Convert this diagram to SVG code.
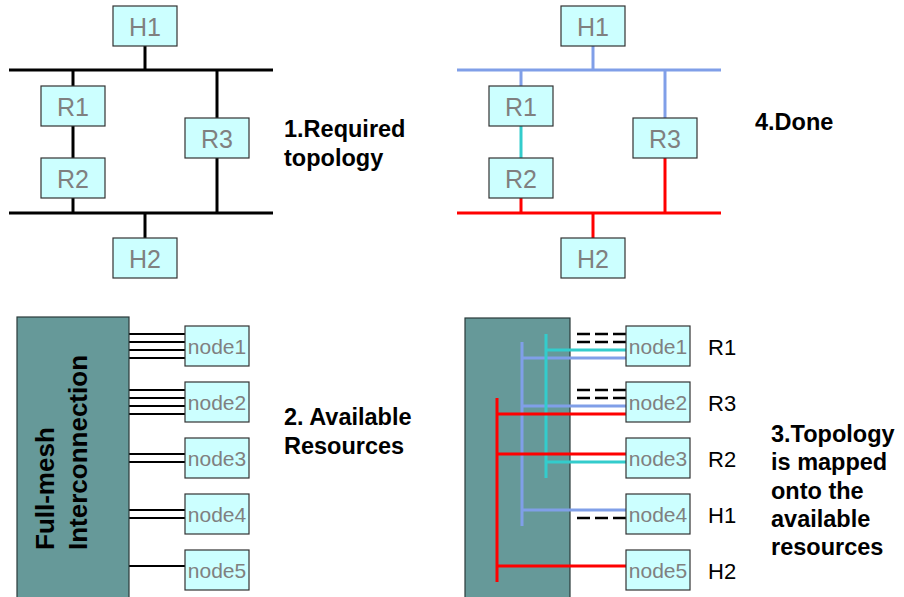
<svg xmlns="http://www.w3.org/2000/svg" width="904" height="597" viewBox="0 0 904 597">
  <style>
    .box { fill: #ccffff; stroke: #333333; stroke-width: 1.2; }
    .blabel { font-family: "Liberation Sans", Arial, sans-serif; font-size: 25px; fill: #808080; text-anchor: middle; dominant-baseline: central; }
    .nlabel { font-family: "Liberation Sans", Arial, sans-serif; font-size: 21px; fill: #808080; text-anchor: middle; dominant-baseline: central; }
    .caption { font-family: "Liberation Sans", Arial, sans-serif; font-size: 23.5px; font-weight: bold; fill: #000000; }
    .map { font-family: "Liberation Sans", Arial, sans-serif; font-size: 22px; fill: #000000; dominant-baseline: central; }
    .fabric { fill: #669999; stroke: #2a3a3a; stroke-width: 1.2; }
    .blk { stroke: #000000; stroke-width: 3; fill: none; }
    .thin { stroke: #000000; stroke-width: 2; fill: none; }
    .dash { stroke: #000000; stroke-width: 2.5; fill: none; stroke-dasharray: 13 5; }
    .blue { stroke: #809fe8; stroke-width: 3; fill: none; }
    .cyan { stroke: #33cccc; stroke-width: 3; fill: none; }
    .red { stroke: #ff0000; stroke-width: 3; fill: none; }
  </style>
  <rect width="904" height="597" fill="#ffffff"/>

  <!-- Connectors -->
  <g id="connectors">
    <!-- required topology (black) -->
    <line class="blk" x1="9" y1="70" x2="273" y2="70"/>
    <line class="blk" x1="9" y1="213" x2="273" y2="213"/>
    <line class="blk" x1="145" y1="46" x2="145" y2="70"/>
    <line class="blk" x1="73" y1="70" x2="73" y2="86"/>
    <line class="blk" x1="73" y1="126" x2="73" y2="158"/>
    <line class="blk" x1="73" y1="198" x2="73" y2="213"/>
    <line class="blk" x1="217" y1="70" x2="217" y2="118"/>
    <line class="blk" x1="217" y1="158" x2="217" y2="213"/>
    <line class="blk" x1="145" y1="213" x2="145" y2="238"/>

    <!-- done topology (coloured) -->
    <line class="blue" x1="457" y1="70" x2="721" y2="70"/>
    <line class="blue" x1="593" y1="46" x2="593" y2="70"/>
    <line class="blue" x1="521" y1="70" x2="521" y2="86"/>
    <line class="blue" x1="665" y1="70" x2="665" y2="118"/>
    <line class="cyan" x1="521" y1="126" x2="521" y2="158"/>
    <line class="red" x1="457" y1="213" x2="721" y2="213"/>
    <line class="red" x1="521" y1="198" x2="521" y2="213"/>
    <line class="red" x1="665" y1="158" x2="665" y2="213"/>
    <line class="red" x1="593" y1="213" x2="593" y2="238"/>

    <!-- available resources links -->
    <g class="thin">
      <line x1="129" y1="334" x2="185" y2="334"/>
      <line x1="129" y1="342" x2="185" y2="342"/>
      <line x1="129" y1="350" x2="185" y2="350"/>
      <line x1="129" y1="358" x2="185" y2="358"/>
      <line x1="129" y1="390" x2="185" y2="390"/>
      <line x1="129" y1="398" x2="185" y2="398"/>
      <line x1="129" y1="406" x2="185" y2="406"/>
      <line x1="129" y1="414" x2="185" y2="414"/>
      <line x1="129" y1="454" x2="185" y2="454"/>
      <line x1="129" y1="462" x2="185" y2="462"/>
      <line x1="129" y1="510" x2="185" y2="510"/>
      <line x1="129" y1="518" x2="185" y2="518"/>
      <line x1="129" y1="566" x2="185" y2="566"/>
    </g>

    <!-- unused links after mapping -->
    <line class="dash" x1="577" y1="334" x2="626" y2="334"/>
    <line class="dash" x1="577" y1="342" x2="626" y2="342"/>
    <line class="dash" x1="577" y1="390" x2="626" y2="390"/>
    <line class="dash" x1="577" y1="398" x2="626" y2="398"/>
    <line class="dash" x1="577" y1="518" x2="626" y2="518"/>
  </g>

  <!-- Required topology nodes -->
  <g id="t1-H1"><rect class="box" x="113" y="6" width="64" height="40"/><text class="blabel" x="145" y="27">H1</text></g>
  <g id="t1-R1"><rect class="box" x="41" y="86" width="64" height="40"/><text class="blabel" x="73" y="107">R1</text></g>
  <g id="t1-R2"><rect class="box" x="41" y="158" width="64" height="40"/><text class="blabel" x="73" y="179">R2</text></g>
  <g id="t1-R3"><rect class="box" x="185" y="118" width="64" height="40"/><text class="blabel" x="217" y="139">R3</text></g>
  <g id="t1-H2"><rect class="box" x="113" y="238" width="64" height="40"/><text class="blabel" x="145" y="259">H2</text></g>

  <!-- Done topology nodes -->
  <g id="t4-H1"><rect class="box" x="561" y="6" width="64" height="40"/><text class="blabel" x="593" y="27">H1</text></g>
  <g id="t4-R1"><rect class="box" x="489" y="86" width="64" height="40"/><text class="blabel" x="521" y="107">R1</text></g>
  <g id="t4-R2"><rect class="box" x="489" y="158" width="64" height="40"/><text class="blabel" x="521" y="179">R2</text></g>
  <g id="t4-R3"><rect class="box" x="633" y="118" width="64" height="40"/><text class="blabel" x="665" y="139">R3</text></g>
  <g id="t4-H2"><rect class="box" x="561" y="238" width="64" height="40"/><text class="blabel" x="593" y="259">H2</text></g>

  <!-- Captions -->
  <g id="caption1"><text class="caption" x="284" y="137">1.Required</text><text class="caption" x="284" y="166">topology</text></g>
  <g id="caption4"><text class="caption" x="755" y="130">4.Done</text></g>
  <g id="caption2"><text class="caption" x="284" y="425">2. Available</text><text class="caption" x="284" y="454">Resources</text></g>
  <g id="caption3">
    <text class="caption" x="771" y="442">3.Topology</text>
    <text class="caption" x="771" y="470">is mapped</text>
    <text class="caption" x="771" y="499">onto the</text>
    <text class="caption" x="771" y="527">available</text>
    <text class="caption" x="771" y="555">resources</text>
  </g>

  <!-- Available resources: switching fabric and nodes -->
  <g id="fabric-left">
    <rect class="fabric" x="17" y="317" width="112" height="290"/>
    <text font-family="'Liberation Sans', Arial, sans-serif" font-size="26" font-weight="bold" fill="#000000" transform="translate(54,550) rotate(-90)">Full-mesh</text>
    <text font-family="'Liberation Sans', Arial, sans-serif" font-size="26" font-weight="bold" fill="#000000" transform="translate(87,550) rotate(-90)">Interconnection</text>
  </g>
  <g id="a-node1"><rect class="box" x="185" y="326" width="64" height="40"/><text class="nlabel" x="217" y="346">node1</text></g>
  <g id="a-node2"><rect class="box" x="185" y="382" width="64" height="40"/><text class="nlabel" x="217" y="402">node2</text></g>
  <g id="a-node3"><rect class="box" x="185" y="438" width="64" height="40"/><text class="nlabel" x="217" y="458">node3</text></g>
  <g id="a-node4"><rect class="box" x="185" y="494" width="64" height="40"/><text class="nlabel" x="217" y="514">node4</text></g>
  <g id="a-node5"><rect class="box" x="185" y="550" width="64" height="40"/><text class="nlabel" x="217" y="570">node5</text></g>

  <!-- Mapped topology: fabric with routed links -->
  <g id="fabric-right">
    <rect class="fabric" x="465" y="318" width="105" height="290"/>
  </g>
  <g id="mapped-links">
    <line class="blue" x1="522" y1="342" x2="522" y2="526"/>
    <line class="blue" x1="522" y1="358" x2="626" y2="358"/>
    <line class="blue" x1="522" y1="406" x2="626" y2="406"/>
    <line class="blue" x1="522" y1="510" x2="626" y2="510"/>
    <line class="cyan" x1="546" y1="334" x2="546" y2="478"/>
    <line class="cyan" x1="546" y1="350" x2="626" y2="350"/>
    <line class="cyan" x1="546" y1="462" x2="626" y2="462"/>
    <line class="red" x1="497" y1="398" x2="497" y2="582"/>
    <line class="red" x1="497" y1="414" x2="626" y2="414"/>
    <line class="red" x1="497" y1="454" x2="626" y2="454"/>
    <line class="red" x1="497" y1="566" x2="626" y2="566"/>
  </g>
  <g id="m-node1"><rect class="box" x="626" y="326" width="64" height="40"/><text class="nlabel" x="658" y="346">node1</text></g>
  <g id="m-node2"><rect class="box" x="626" y="382" width="64" height="40"/><text class="nlabel" x="658" y="402">node2</text></g>
  <g id="m-node3"><rect class="box" x="626" y="438" width="64" height="40"/><text class="nlabel" x="658" y="458">node3</text></g>
  <g id="m-node4"><rect class="box" x="626" y="494" width="64" height="40"/><text class="nlabel" x="658" y="514">node4</text></g>
  <g id="m-node5"><rect class="box" x="626" y="550" width="64" height="40"/><text class="nlabel" x="658" y="570">node5</text></g>

  <!-- Role assigned to each node -->
  <g id="roles">
    <text class="map" x="708" y="347">R1</text>
    <text class="map" x="708" y="403">R3</text>
    <text class="map" x="708" y="459">R2</text>
    <text class="map" x="708" y="515">H1</text>
    <text class="map" x="708" y="571">H2</text>
  </g>
</svg>
